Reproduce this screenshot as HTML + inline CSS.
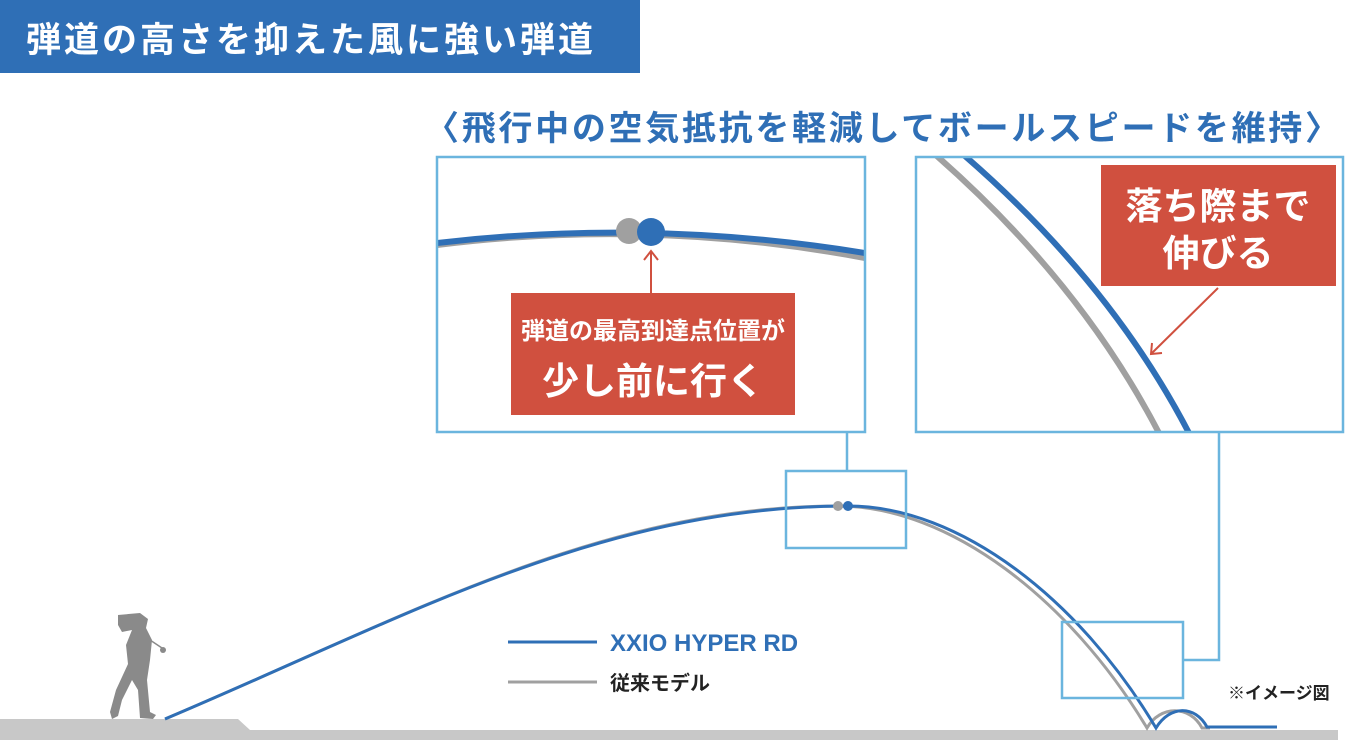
<!DOCTYPE html>
<html><head><meta charset="utf-8"><style>
html,body{margin:0;padding:0;background:#fff}
body{width:1345px;height:740px;overflow:hidden;position:relative}
svg text{font-family:"Liberation Sans","Noto Sans CJK JP",sans-serif;font-weight:bold}
</style></head><body>
<svg width="1345" height="740" viewBox="0 0 1345 740" xmlns="http://www.w3.org/2000/svg">
<rect x="0" y="0" width="640" height="73" fill="#2f6fb6"/>
<text x="26" y="52" font-size="35" letter-spacing="3" fill="#fff">弾道の高さを抑えた風に強い弾道</text>
<text x="425" y="140" font-size="34" letter-spacing="4" fill="#2f6fb6" textLength="918" lengthAdjust="spacing">〈飛行中の空気抵抗を軽減してボールスピードを維持〉</text>

<!-- ground -->
<path d="M0,719 L238,719 L250,730 L1338,730 L1338,740 L0,740 Z" fill="#c8c8c8"/>

<!-- golfer -->
<g fill="#8a8a8a">
<path d="M118,615 L140,613 L148,619 L146,628 L152,640 L150,660 L147,680 L150,712 L156,715 L153,719 L140,718 L138,690 L132,680 L122,700 L118,716 L112,719 L110,712 L116,690 L128,664 L126,645 L132,630 L122,632 L118,625 Z"/>
<line x1="150" y1="640" x2="162" y2="648" stroke="#8a8a8a" stroke-width="1.5"/>
<circle cx="163" cy="650" r="3"/>
</g>

<!-- trajectories -->
<path d="M165,719 C400,620 600,506 838,506 C950,506 1070,600 1147,728 C1160,705 1190,705 1202,728 L1210,728" fill="none" stroke="#a0a0a0" stroke-width="3"/>
<path d="M165,719 C400,620 600,506 848,506 C960,506 1080,600 1156,728 C1170,705 1195,705 1207,727 L1277,727" fill="none" stroke="#2f6fb6" stroke-width="3"/>
<circle cx="838" cy="506" r="5" fill="#a0a0a0"/>
<circle cx="848" cy="506" r="5" fill="#2f6fb6"/>

<!-- boxes -->
<g fill="none" stroke="#6bb5de" stroke-width="2.5">
<rect x="786" y="471" width="120" height="77"/>
<line x1="847" y1="432" x2="847" y2="471"/>
<rect x="1062" y="622" width="121" height="76"/>
<polyline points="1183,660 1219,660 1219,432"/>
</g>

<!-- box 1 -->
<svg x="437" y="157" width="428" height="275" viewBox="437 157 428 275" overflow="hidden">
<path d="M437,245 Q651,218 865,258" fill="none" stroke="#a0a0a0" stroke-width="6"/>
<path d="M437,243 Q651,218 865,253" fill="none" stroke="#2f6fb6" stroke-width="6"/>
<circle cx="629" cy="231" r="13" fill="#a0a0a0"/>
<circle cx="651" cy="232" r="14" fill="#2f6fb6"/>
</svg>
<rect x="437" y="157" width="428" height="275" fill="none" stroke="#6bb5de" stroke-width="2.5"/>
<line x1="651" y1="293" x2="651" y2="252" stroke="#d0503f" stroke-width="2"/>
<polyline points="644,260 651,251 658,260" fill="none" stroke="#d0503f" stroke-width="2"/>
<rect x="511" y="293" width="284" height="122" fill="#d0503f"/>
<text x="653" y="339" font-size="24" fill="#fff" text-anchor="middle">弾道の最高到達点位置が</text>
<text x="653" y="394" font-size="37" fill="#fff" text-anchor="middle">少し前に行く</text>

<!-- box 2 -->
<svg x="916" y="157" width="427" height="275" viewBox="916 157 427 275" overflow="hidden">
<path d="M930,150 Q1080,280 1160,435" fill="none" stroke="#a0a0a0" stroke-width="6"/>
<path d="M958,150 Q1110,280 1190,435" fill="none" stroke="#2f6fb6" stroke-width="6"/>
</svg>
<rect x="916" y="157" width="427" height="275" fill="none" stroke="#6bb5de" stroke-width="2.5"/>
<rect x="1101" y="165" width="235" height="121" fill="#d0503f"/>
<text x="1218" y="219" font-size="37" fill="#fff" text-anchor="middle">落ち際まで</text>
<text x="1218" y="266" font-size="37" fill="#fff" text-anchor="middle">伸びる</text>
<line x1="1218" y1="288" x2="1152" y2="353" stroke="#d0503f" stroke-width="2"/>
<polyline points="1152,343 1151,354 1162,353" fill="none" stroke="#d0503f" stroke-width="2"/>

<!-- legend -->
<line x1="508" y1="642" x2="597" y2="642" stroke="#2f6fb6" stroke-width="3"/>
<text x="610" y="651" font-size="24" fill="#2f6fb6">XXIO HYPER RD</text>
<line x1="508" y1="682" x2="597" y2="682" stroke="#a0a0a0" stroke-width="3"/>
<text x="610" y="690" font-size="20" fill="#222" font-weight="normal">従来モデル</text>
<text x="1228" y="699" font-size="17" fill="#222" font-weight="normal">※イメージ図</text>
</svg>
</body></html>
